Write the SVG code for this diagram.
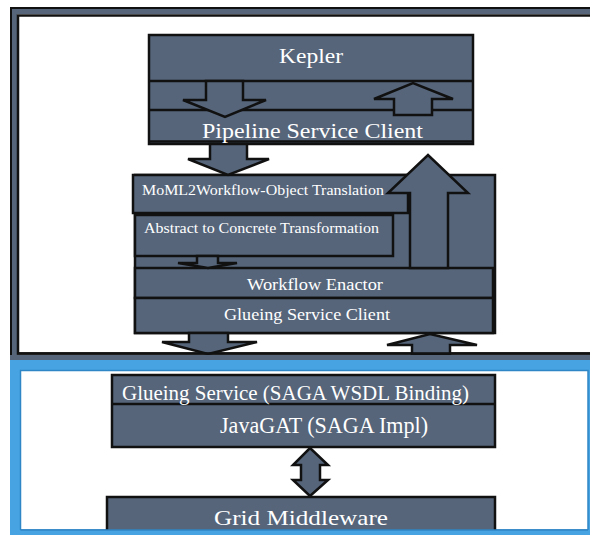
<svg xmlns="http://www.w3.org/2000/svg" width="590" height="535" viewBox="0 0 590 535">
<style>
.box{fill:#56657a;stroke:#111;stroke-width:2.5}
.ln{stroke:#111;stroke-width:2.5;fill:none}
.ar{fill:#56657a;stroke:#111;stroke-width:2.5;stroke-linejoin:miter}
.t{font-family:"Liberation Serif","DejaVu Serif",serif;fill:#fff}
</style>
<!-- top frame -->
<g id="frame-top">
<rect x="11" y="8" width="640" height="355" fill="none" stroke="#111" stroke-width="2"/>
<rect x="14.5" y="11.5" width="640" height="346" fill="none" stroke="#56657a" stroke-width="5"/>
<rect x="18" y="15.5" width="640" height="338" fill="#fff" stroke="#111" stroke-width="2.5"/>
</g>
<!-- bottom frame -->
<g id="frame-bottom">
<rect x="10" y="360" width="580" height="175" fill="#47a3e1"/>
<rect x="20.5" y="370.5" width="567.5" height="159.5" fill="#fff" stroke="#2f86c6" stroke-width="1.5"/>
</g>
<g id="kepler">
<rect class="box" x="149" y="35" width="324" height="109"/>
<line class="ln" x1="149" y1="81" x2="473" y2="81"/>
<line class="ln" x1="149" y1="110" x2="473" y2="110"/>
<line class="ln" x1="149" y1="141.5" x2="473" y2="141.5" stroke-width="1.5"/>
</g>
<g id="workflow-container">
<rect class="box" x="135" y="175" width="360" height="158"/>
</g>
<g id="moml">
<rect class="box" x="133" y="175" width="275" height="38"/>
<text class="t" x="142" y="195" font-size="15" textLength="242" lengthAdjust="spacingAndGlyphs">MoML2Workflow-Object Translation</text>
</g>
<g id="abstract">
<rect class="box" x="135" y="215" width="258" height="41"/>
<text class="t" x="144" y="233" font-size="15" textLength="235" lengthAdjust="spacingAndGlyphs">Abstract to Concrete Transformation</text>
</g>
<g id="enactor">
<rect class="box" x="135" y="268" width="358" height="30"/>
<text class="t" x="247" y="290" font-size="16.5" textLength="136" lengthAdjust="spacingAndGlyphs">Workflow Enactor</text>
</g>
<g id="glueing-client">
<rect class="box" x="135" y="298" width="358" height="35"/>
<text class="t" x="224" y="320" font-size="17" textLength="166" lengthAdjust="spacingAndGlyphs">Glueing Service Client</text>
</g>
<g id="glueing-service">
<rect class="box" x="112" y="375" width="383" height="72"/>
<line class="ln" x1="112" y1="404" x2="495" y2="404"/>
<text class="t" x="122" y="400" font-size="20" textLength="347" lengthAdjust="spacingAndGlyphs">Glueing Service (SAGA WSDL Binding)</text>
<text class="t" x="220" y="433" font-size="24" textLength="208" lengthAdjust="spacingAndGlyphs">JavaGAT (SAGA Impl)</text>
</g>
<g id="grid">
<rect class="box" x="107" y="497" width="388" height="45"/>
<text class="t" x="214" y="525" font-size="22" textLength="174" lengthAdjust="spacingAndGlyphs">Grid Middleware</text>
</g>
<g id="connectors">
<polygon class="ar" points="206,81 243,81 243,100 266,100 225,117 183,100 206,100"/>
<polygon class="ar" points="394,115 394,99 374,99 413,83 453,99 432,99 432,115"/>
<polygon class="ar" points="210,144 247,144 247,159 269,159 228,175 188,159 210,159"/>
<polygon class="ar" points="410,268 410,193 388,193 428,155 468,193 448,193 448,268"/>
<polygon class="ar" points="197,256 218,256 218,263 237,263 208,268 178,263 197,263"/>
<polygon class="ar" points="189,333 228,333 228,342 257,342 208,354 162,342 189,342"/>
<polygon class="ar" points="412,354 412,345 387,345 430,334 477,345 450,345 450,354"/>
<polygon class="ar" points="310,448 328,465 320,465 320,480 328,480 310,496 293,480 301,480 301,465 293,465"/>
</g>
<g id="labels-top">
<text class="t" x="279" y="63" font-size="21" textLength="64" lengthAdjust="spacingAndGlyphs">Kepler</text>
<text class="t" x="202" y="138" font-size="22" textLength="221" lengthAdjust="spacingAndGlyphs">Pipeline Service Client</text>
</g>
<g id="frame-edges">
<line x1="17" y1="353.5" x2="590" y2="353.5" stroke="#111" stroke-width="2.5"/>
<rect x="10" y="355" width="580" height="5" fill="#56657a"/>
<rect x="10" y="530" width="580" height="5" fill="#47a3e1"/>
<line x1="20.5" y1="530" x2="588" y2="530" stroke="#2f86c6" stroke-width="1.5"/>
</g>
</svg>
